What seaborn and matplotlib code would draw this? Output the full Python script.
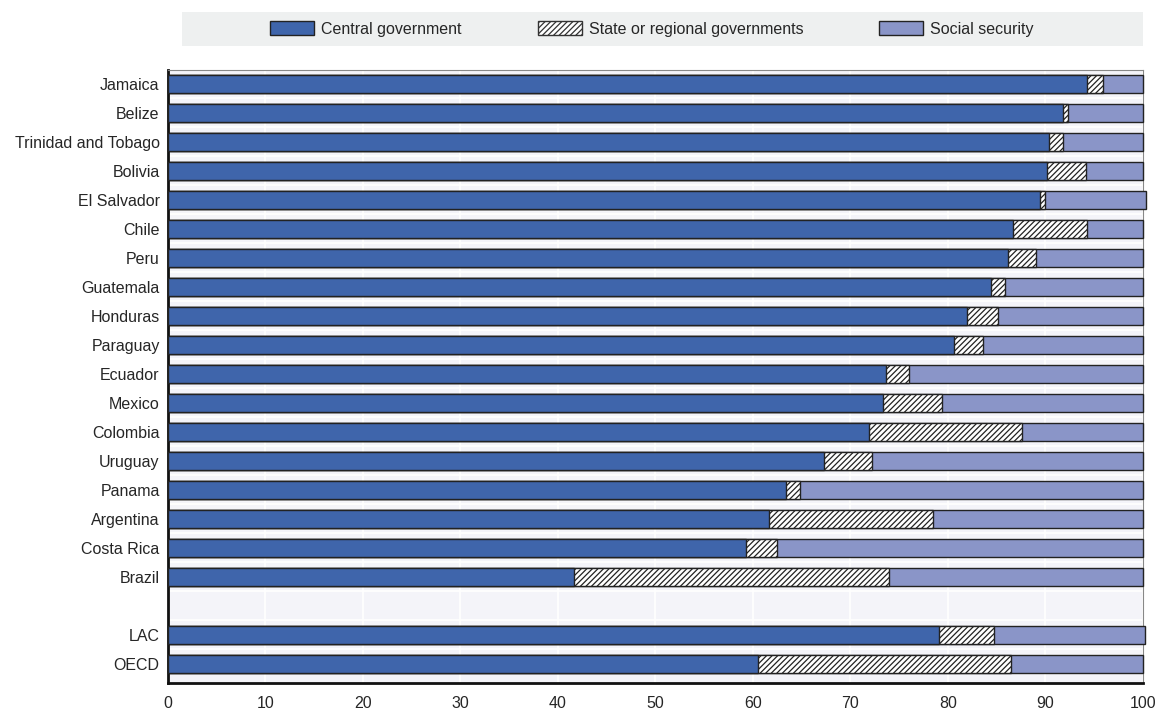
import matplotlib
matplotlib.use("Agg")
import matplotlib.pyplot as plt
from matplotlib.patches import Patch, Rectangle
from matplotlib.ticker import FixedLocator
import numpy as np
import pandas as pd
import seaborn as sns

# Share of tax revenue by level of government (%)
countries = [
    "Jamaica", "Belize", "Trinidad and Tobago", "Bolivia", "El Salvador",
    "Chile", "Peru", "Guatemala", "Honduras", "Paraguay", "Ecuador",
    "Mexico", "Colombia", "Uruguay", "Panama", "Argentina", "Costa Rica",
    "Brazil", "LAC", "OECD",
]
central = [94.3, 91.8, 90.4, 90.2, 89.4, 86.7, 86.2, 84.4, 82.0, 80.6, 73.6,
           73.3, 71.9, 67.3, 63.4, 61.6, 59.3, 41.6, 79.1, 60.5]
state = [1.6, 0.5, 1.4, 4.0, 0.5, 7.6, 2.8, 1.4, 3.1, 3.0, 2.4,
         6.1, 15.7, 4.9, 1.4, 16.9, 3.2, 32.4, 5.6, 26.0]
social = [4.1, 7.7, 8.2, 5.8, 10.4, 5.7, 11.0, 14.2, 14.9, 16.4, 24.0,
          20.6, 12.4, 27.8, 35.2, 21.5, 37.5, 26.0, 15.5, 13.5]

labels = ["Central government", "State or regional governments", "Social security"]
order = countries[:18] + [" "] + countries[18:]

C_CENTRAL = "#3f65ab"
C_SOCIAL = "#8a95c8"
EDGE = "#222222"

df = pd.DataFrame({"country": countries, "central": central,
                   "state": state, "social": social})
df["cum1"] = df["central"]
df["cum2"] = df["central"] + df["state"]
df["cum3"] = df["cum2"] + df["social"]

sns.set_style("white")
plt.rcParams["font.family"] = ["Liberation Sans Narrow", "Liberation Sans", "DejaVu Sans"]
plt.rcParams["hatch.linewidth"] = 0.9
plt.rcParams["hatch.color"] = "#333333"

fig = plt.figure(figsize=(11.57, 7.12), dpi=100)
ax = fig.add_axes([0.1452, 0.0407, 0.8427, 0.861])
ax.set_facecolor("#f4f4f9")

bar_kw = dict(y="country", order=order, orient="h", width=0.62,
              edgecolor=EDGE, linewidth=1.0, ax=ax, zorder=3)
sns.barplot(data=df, x="cum3", color=C_SOCIAL, saturation=1, **bar_kw)
sns.barplot(data=df, x="cum2", color="white", saturation=1, hatch="//////", **bar_kw)
sns.barplot(data=df, x="cum1", color=C_CENTRAL, saturation=1, **bar_kw)
# a couple of totals run a hair past 100, as in the original
for p in ax.patches:
    p.set_clip_on(False)

ax.set_xlim(0, 100)
ax.set_ylim(20.66, -0.48)
ax.set_xticks(np.arange(0, 101, 10))
ax.tick_params(axis="x", direction="in", length=5, width=1, labelsize=11.5,
               pad=9, color="#111111")
ax.tick_params(axis="y", which="major", length=0, labelsize=11.5, pad=6)
ax.yaxis.set_minor_locator(FixedLocator(np.arange(0.5, 20.5, 1)))
ax.tick_params(axis="y", which="minor", direction="in", length=5, width=1,
               color="#111111")
ax.grid(axis="x", color="white", linewidth=1.2, zorder=0)
ax.grid(axis="y", which="minor", color="white", linewidth=1.2, zorder=0)
ax.set_axisbelow(True)
ax.set_xlabel("")
ax.set_ylabel("")

for side in ["left", "bottom"]:
    ax.spines[side].set_color("#111111")
    ax.spines[side].set_linewidth(2)
for side in ["top", "right"]:
    ax.spines[side].set_color("#888888")
    ax.spines[side].set_linewidth(0.8)

# legend band across the top
fig.patches.append(Rectangle((182 / 1157, 1 - 46 / 712), (1143 - 182) / 1157, 34 / 712,
                             transform=fig.transFigure, facecolor="#eef0f0",
                             edgecolor="none", zorder=0))
handles = [
    Patch(facecolor=C_CENTRAL, edgecolor=EDGE, linewidth=1.0),
    Patch(facecolor="white", edgecolor="#333333", hatch="//////", linewidth=1.0),
    Patch(facecolor=C_SOCIAL, edgecolor=EDGE, linewidth=1.0),
]
fig.legend(handles, labels, loc="center", ncol=3,
           bbox_to_anchor=(652 / 1157, 1 - 29 / 712),
           frameon=False, fontsize=11.5, handlelength=2.75, handleheight=0.9,
           borderaxespad=0, handletextpad=0.45, columnspacing=4.75)

fig.savefig("out.png", dpi=100, facecolor="white")
